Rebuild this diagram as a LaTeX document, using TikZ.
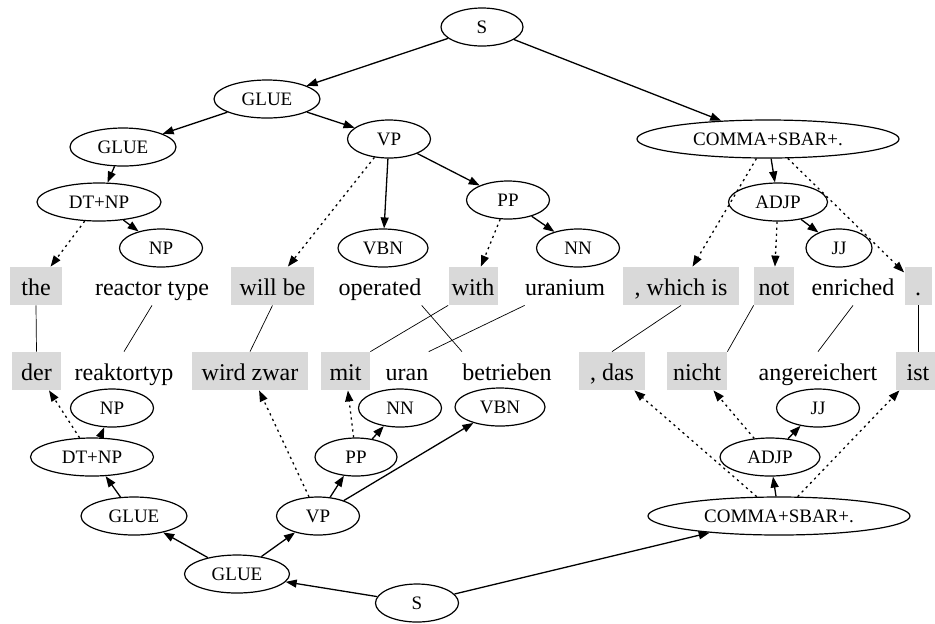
\documentclass[tikz,border=0pt]{standalone}
\usepackage{fontspec}
\setmainfont{Liberation Serif}
\usetikzlibrary{shapes.geometric, arrows.meta}
\definecolor{wordgray}{gray}{0.85}

\tikzset{
  tag/.style={draw, ellipse, line width=0.6pt, inner sep=0pt, minimum height=19pt,
    minimum width=#1, text height=6.3pt, text depth=0pt, font=\fontsize{9.5}{11}\selectfont},
  tag/.default=41.5pt,
  word/.style={inner sep=0pt, minimum height=19pt, text height=9pt, text depth=0pt,
    font=\fontsize{12}{14}\selectfont},
  hl/.style={word, fill=wordgray, minimum width=#1},
  kid/.style={line width=0.65pt, -{Triangle[length=5.5pt,width=4pt]}},
  gap/.style={kid, dash pattern=on 1.1pt off 1.9pt},
  link/.style={line width=0.35pt},
}

\begin{document}
\begin{tikzpicture}[x=0.5pt, y=-0.5pt]
  \useasboundingbox (0,0) rectangle (935,623);

  % english tree
  \node[tag=41pt]    (s1)    at (482,27)  {S};
  \node[tag=53pt]    (glue1) at (267,99)  {GLUE};
  \node[tag=53pt]    (glue2) at (123,147) {GLUE};
  \node[tag]         (vp1)   at (389,139) {VP};
  \node[tag=62pt]    (dtnp1) at (99,202)  {DT+NP};
  \node[tag]         (np1)   at (161,248) {NP};
  \node[tag=45pt]    (vbn1)  at (383,248) {VBN};
  \node[tag]         (pp1)   at (508,200) {PP};
  \node[tag]         (nn1)   at (578,248) {NN};
  \node[tag=131pt]   (csp1)  at (768,139) {COMMA+SBAR+.};
  \node[tag=49.5pt]  (adjp1) at (778,202) {ADJP};
  \node[tag=33pt]    (jj1)   at (839,248) {JJ};

  \node[hl=26pt]   (the)      at (36,286)    {the};
  \node[word]      (rtype)    at (152,286)   {reactor type};
  \node[hl=41.5pt] (willbe)   at (272.5,286) {will be};
  \node[word]      (operated) at (380,286)   {operated};
  \node[hl=24.5pt] (with)     at (473,286)   {with};
  \node[word]      (uranium)  at (565,286)   {uranium};
  \node[hl=58pt]   (which)    at (681,286)   {, which is};
  \node[hl=20pt]   (not)      at (774,286)   {not};
  \node[word]      (enriched) at (853,286)   {enriched};
  \node[hl=13.5pt] (stop)     at (918,286)   {.};

  % german tree
  \node[hl=24.5pt] (der)       at (36.5,371)  {der};
  \node[word]      (rtyp)      at (124,371)   {reaktortyp};
  \node[hl=58pt]   (wirdzwar)  at (250,371)   {wird zwar};
  \node[hl=24.5pt] (mit)       at (345.5,371) {mit};
  \node[word]      (uran)      at (407,371)   {uran};
  \node[word]      (betrieben) at (507,371)   {betrieben};
  \node[hl=33pt]   (das)       at (612,371)   {, das};
  \node[hl=30pt]   (nicht)     at (697,371)   {nicht};
  \node[word]      (angereichert) at (818,371) {angereichert};
  \node[hl=22pt]   (ist)       at (918,371)   {ist};

  \node[tag]         (np2)   at (112,408) {NP};
  \node[tag=61.5pt]  (dtnp2) at (92,457)  {DT+NP};
  \node[tag=53pt]    (glue3) at (134,516) {GLUE};
  \node[tag]         (vp2)   at (318,516) {VP};
  \node[tag=41pt]    (pp2)   at (356,457) {PP};
  \node[tag]         (nn2)   at (400,408) {NN};
  \node[tag=45pt]    (vbn2)  at (500,407) {VBN};
  \node[tag=52.5pt]  (glue4) at (237,574) {GLUE};
  \node[tag]         (s2)    at (417,603) {S};
  \node[tag=131pt]   (csp2)  at (779,516) {COMMA+SBAR+.};
  \node[tag=50pt]    (adjp2) at (770,457) {ADJP};
  \node[tag]         (jj2)   at (818,408) {JJ};

  \draw[kid] (s1) -- (glue1);
  \draw[kid] (s1) -- (csp1);
  \draw[kid] (glue1) -- (glue2);
  \draw[kid] (glue1) -- (vp1);
  \draw[kid] (glue2) -- (dtnp1);
  \draw[gap] (dtnp1) -- (the);
  \draw[kid] (dtnp1) -- (np1);
  \draw[gap] (vp1) -- (willbe);
  \draw[kid] (vp1) -- (vbn1);
  \draw[kid] (vp1) -- (pp1);
  \draw[gap] (pp1) -- (with);
  \draw[kid] (pp1) -- (nn1);
  \draw[gap] (csp1) -- (which);
  \draw[kid] (csp1) -- (adjp1);
  \draw[gap] (csp1) -- (stop);
  \draw[gap] (adjp1) -- (not);
  \draw[kid] (adjp1) -- (jj1);

  \draw[kid] (s2) -- (glue4);
  \draw[kid] (s2) -- (csp2);
  \draw[kid] (glue4) -- (glue3);
  \draw[kid] (glue4) -- (vp2);
  \draw[kid] (glue3) -- (dtnp2);
  \draw[gap] (dtnp2) -- (der);
  \draw[kid] (dtnp2) -- (np2);
  \draw[gap] (vp2) -- (wirdzwar);
  \draw[kid] (vp2) -- (pp2);
  \draw[kid] (vp2) -- (vbn2);
  \draw[gap] (pp2) -- (mit);
  \draw[kid] (pp2) -- (nn2);
  \draw[gap] (csp2) -- (das);
  \draw[kid] (csp2) -- (adjp2);
  \draw[gap] (csp2) -- (ist);
  \draw[gap] (adjp2) -- (nicht);
  \draw[kid] (adjp2) -- (jj2);

  % word alignment
  \draw[link] (the.south) -- (der.north);
  \draw[link] (rtype.south) -- (rtyp.north);
  \draw[link] (willbe.south) -- (wirdzwar.north);
  \draw[link] (operated.south east) -- (betrieben.north west);
  \draw[link] (with.south west) -- (mit.north east);
  \draw[link] (uranium.south west) -- (uran.north east);
  \draw[link] (which.south) -- (das.north);
  \draw[link] (not.south west) -- (nicht.north east);
  \draw[link] (enriched.south) -- (angereichert.north);
  \draw[link] (stop.south) -- (ist.north);
\end{tikzpicture}
\end{document}
